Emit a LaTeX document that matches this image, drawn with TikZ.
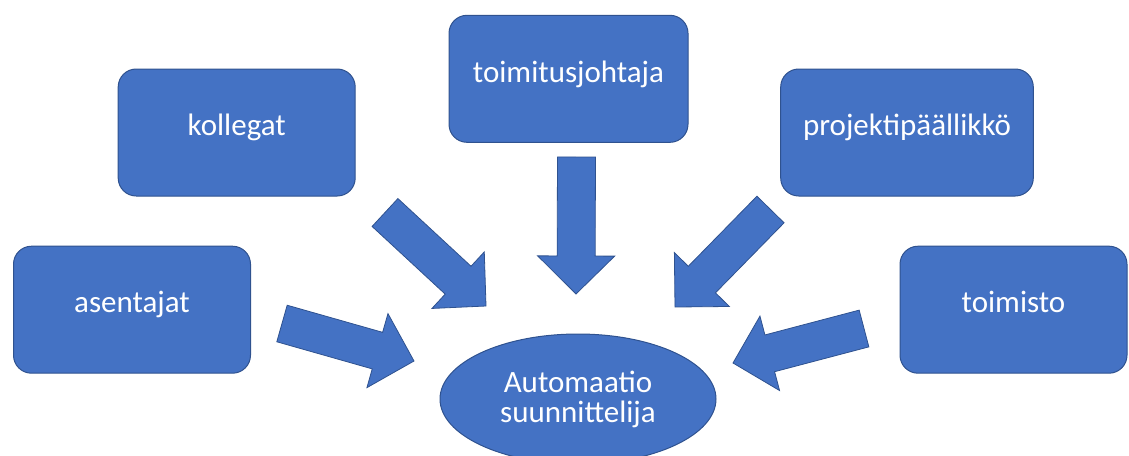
\documentclass[tikz,border=0pt]{standalone}
\usepackage{fontspec}
\setmainfont{Carlito}
\usetikzlibrary{calc,shapes.geometric}
\definecolor{boxblue}{HTML}{4472C4}
\definecolor{boxline}{HTML}{2F528F}

\begin{document}
\begin{tikzpicture}[x=1pt,y=1pt,
  box/.style={draw=boxline,fill=boxblue,line width=1pt,rounded corners=18pt,
    minimum width=#1,minimum height=127pt,text=white,
    text height=0.7em,text depth=0.06em,font=\fontsize{31}{30}\selectfont},
  box/.default=237pt,
  goal/.style={ellipse,draw=boxline,fill=boxblue,line width=1pt,
    minimum width=276pt,minimum height=130pt,text=white,align=center,
    font=\fontsize{31}{30}\selectfont},
  bigarrow/.style={draw=boxline,fill=boxblue,line width=0.8pt,
    to path={let \p1=(\tikztostart),\p2=(\tikztotarget),
      \n1={atan2(\y2-\y1,\x2-\x1)},\n2={veclen(\x2-\x1,\y2-\y1)-38} in
      ($(\p1)+(\n1+90:19)$) -- ($(\p1)+(\n1:\n2)+(\n1+90:19)$)
      -- ($(\p1)+(\n1:\n2)+(\n1+90:38.5)$) -- (\p2)
      -- ($(\p1)+(\n1:\n2)+(\n1-90:38.5)$) -- ($(\p1)+(\n1:\n2)+(\n1-90:19)$)
      -- ($(\p1)+(\n1-90:19)$) -- cycle}}]
\useasboundingbox (0,0) rectangle (1129,-455);

\node [box] (kollegat) at (236.7,-132.5) {kollegat};
\node [box] (asentajat) at (132,-309.7) {asentajat};
\node [box=239pt] (toimitus) at (568.5,-78.8) {toimitusjohtaja};
\node [box=252.6pt] (projekti) at (907,-132.5) {projektipäällikkö};
\node [box=227pt] (toimisto) at (1013.5,-309.7) {toimisto};
\node [goal] (auto) at (578,-399) {Automaatio\\suunnittelija};

\coordinate (a1) at (282,-323.5);
\coordinate (a2) at (414,-361);
\coordinate (k1) at (385,-212.5);
\coordinate (k2) at (486,-306);
\coordinate (t1) at (576.5,-157);
\coordinate (t2) at (576,-294);
\coordinate (p1) at (770.5,-209.5);
\coordinate (p2) at (675,-307);
\coordinate (o1) at (864,-328.5);
\coordinate (o2) at (733,-363);

\draw [bigarrow] (a1) to (a2);
\draw [bigarrow] (k1) to (k2);
\draw [bigarrow] (t1) to (t2);
\draw [bigarrow] (p1) to (p2);
\draw [bigarrow] (o1) to (o2);
\end{tikzpicture}
\end{document}
